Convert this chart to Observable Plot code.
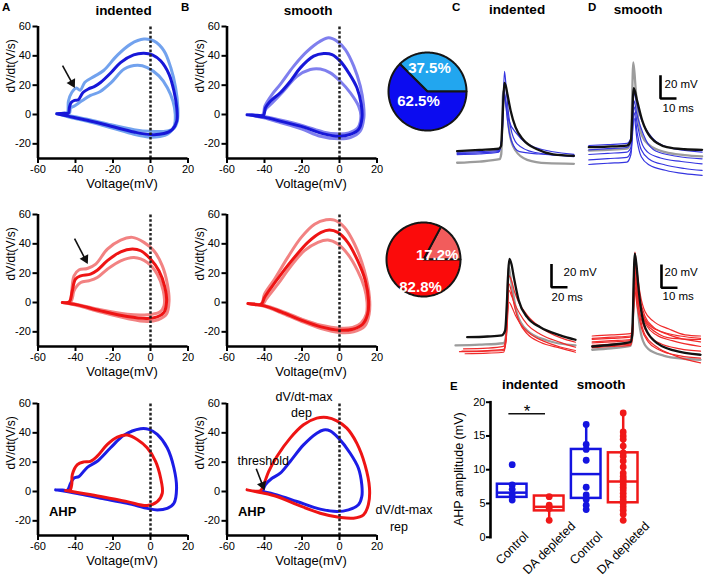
<!DOCTYPE html>
<html><head><meta charset="utf-8">
<script src="https://cdn.jsdelivr.net/npm/d3@7"></script>
<script src="https://cdn.jsdelivr.net/npm/@observablehq/plot@0.6"></script>
<style>
html,body{margin:0;padding:0;background:#fff;}
#fig{position:relative;width:708px;height:577px;overflow:hidden;background:#fff;font-family:"Liberation Sans",Arial,Helvetica,sans-serif;}
#fig svg{position:absolute;overflow:visible;}
</style></head><body><div id="fig"></div>
<script>
// ---------------- DATA ----------------
const xTicksPhase = [-60, -40, -20, 0, 20];
const yTicksPhase = [60, 40, 20, 0, -20];
const phaseX = [-60, 20];
const phaseY = [-30, 60];
const xLabelPhase = "Voltage(mV)";
const yLabelPhase = "dV/dt(V/s)";

// Panel A (indented) control, blue: mean and mean±SEM  [V (mV), dV/dt (V/s)]
const a1Mean = [[-50,0.5],[-46,0.8],[-43.8,1],[-43.2,5],[-42.3,8.2],[-40.5,9.6],[-38.5,10],[-36,15],[-33,17.5],[-30,19],[-26.5,22],[-21,28.6],[-16,35.4],[-9,40.7],[-3.5,41.8],[1,40.7],[5.4,36.6],[9.9,27.4],[12.5,16],[14,4.6],[14,-4.6],[11.6,-10.3],[7.2,-13],[0,-13.7],[-8.8,-11.9],[-21,-8],[-33.7,-3.9],[-44,-1.1],[-50,0.5]];
const a1Upper = [[-50,0.5],[-46,0.9],[-44.3,1.5],[-43.8,9],[-42,15],[-39.5,18],[-37.5,16.5],[-35,22],[-30,26],[-25,30],[-18,40],[-10.6,48],[-3.5,51.4],[2,50],[7.2,43.4],[10.8,32],[13.4,18.3],[14.6,4.6],[14.3,-4.6],[12.5,-9.5],[9,-11.2],[0,-11.5],[-8.8,-10.3],[-21,-7],[-33.7,-3.2],[-44,-0.6],[-50,0.5]];
const a1Lower = [[-49,0.3],[-45,0.6],[-43.2,1],[-42.6,4.6],[-41,5.5],[-37,9],[-32,13],[-27,15.5],[-21,21.7],[-14,31],[-7,33.6],[-1.7,32],[4.5,26.3],[9,18.3],[12,9],[13.2,0],[12.6,-8],[9,-13.5],[5,-15],[0,-15.5],[-8.8,-13.5],[-21,-9],[-33.7,-4.6],[-44,-1.6],[-49,0.3]];
// Panel B (smooth) control, blue
const b1Mean = [[-49.3,-0.2],[-44,-0.5],[-40.5,-0.5],[-39.5,4.5],[-36.9,9],[-31.6,14.8],[-26.2,22.7],[-20.9,31.8],[-13.8,39.8],[-8.4,41.6],[-4,40.9],[0.4,36.4],[4.9,28.4],[9.3,18.2],[11.6,6.8],[12,-2.3],[10.2,-10.2],[5.8,-13.6],[-0.4,-14.8],[-8.4,-13.2],[-19.1,-8.6],[-31.6,-4.5],[-40.4,-1.8],[-49.3,-0.2]];
const b1Upper = [[-48,-0.2],[-41,-0.3],[-39.8,5.7],[-36,13.6],[-31.6,20.5],[-24.4,33],[-17.3,43],[-10.2,50],[-5.8,52.3],[-1.3,50],[3.1,44.3],[7.6,33],[11.1,19.3],[12.8,6.8],[13,-2.3],[11,-11.4],[5.8,-15.8],[-0.4,-16.6],[-10.2,-14.8],[-20,-10],[-31.6,-5.5],[-40.4,-2.3],[-48,-0.2]];
const b1Lower = [[-47,-0.3],[-41,-0.3],[-39.5,3.4],[-35,9],[-29.8,16],[-22.7,26],[-15.6,30.7],[-10.2,31],[-4.9,28.4],[0.4,22.7],[5.8,14.8],[10.2,5.7],[11.4,-1.1],[9.8,-9],[5,-12.5],[-1.3,-13.2],[-8.4,-12],[-19.1,-7.8],[-31.6,-3.8],[-40.4,-1.4],[-47,-0.3]];
// Panel A (indented) DA depleted, red
const a2Mean = [[-47,0],[-44,0],[-43,1],[-41.7,8],[-40,16],[-37.2,18.2],[-32,19.4],[-28.4,22],[-23,28.5],[-15.9,34.6],[-9.7,36.5],[-5.2,35.3],[0,29.6],[4.5,21.6],[7.7,10.3],[8.6,1.1],[7.2,-6.8],[3.6,-9.8],[-1.7,-10.9],[-12.4,-9.6],[-26.6,-5.7],[-39,-1.6],[-47,0]];
const a2Upper = [[-47,0],[-43,0.5],[-42,8],[-40.8,18.2],[-38,22.3],[-33.7,23.2],[-29.2,26.2],[-23,36.4],[-15.9,42.6],[-9.7,44.4],[-3.5,41],[1.8,35.3],[6.3,25],[9,12.5],[9.9,1.1],[8.5,-8],[4,-11.8],[-1.7,-13],[-12.4,-11],[-26.6,-6.5],[-39,-2],[-47,0]];
const a2Lower = [[-46,0],[-42.5,0.5],[-41.5,4],[-40.8,8],[-37.2,13.6],[-32.8,14.8],[-28.4,17],[-23,22.7],[-15.9,28.4],[-8.8,30.7],[-1.7,27.3],[3.6,19.3],[6.8,8],[7.2,-2.3],[5,-6.5],[1,-8],[-5,-8.5],[-12.4,-8],[-26.6,-5],[-39,-1.3],[-46,0]];
// Panel B (smooth) DA depleted, red
const b2Mean = [[-48.8,-0.7],[-41.7,-1.1],[-40,3.4],[-36.4,10.2],[-31.1,19.4],[-24,30.8],[-16.9,41],[-9.8,47.8],[-5.4,49.4],[-0.9,47.8],[4.4,41],[9.7,28.5],[13.8,14.8],[15.5,1.1],[15,-8],[12.4,-14.8],[7.1,-18.2],[0,-18.9],[-9.8,-16.6],[-20.4,-12],[-31.1,-6.4],[-40,-2.3],[-48.8,-0.7]];
const b2Upper = [[-48.8,-0.7],[-41.7,-1],[-40,5.7],[-34.6,16],[-27.6,30.8],[-20.4,44.4],[-13.3,53.4],[-7.1,56.4],[-2.7,56.2],[2.7,51.2],[8,39.9],[13.3,21.6],[16,3.4],[15.8,-8],[13.5,-16],[7.5,-20],[0,-20.5],[-9.8,-17.8],[-20.4,-12.8],[-31.1,-7],[-40,-2.6],[-48.8,-0.7]];
const b2Lower = [[-48,-0.7],[-41,-1.1],[-39.1,2.3],[-32.9,12.5],[-25.8,25],[-18.7,35.3],[-11.5,41],[-6.2,42.6],[-0.9,39.9],[4.4,33],[9.7,21.6],[13.3,10.2],[14.7,0],[14.3,-8],[11.5,-14],[7,-17],[0,-17.5],[-9.8,-15.5],[-20.4,-11.2],[-31.1,-5.8],[-40,-2],[-48,-0.7]];
// Overlays: indented (A) and smooth (B), control blue vs DA depleted red
const a3Blue = [[-50.6,1.1],[-47,1],[-44.4,0.8],[-42.6,5.7],[-40.8,9.2],[-38.1,10.3],[-33.7,16.5],[-28.4,20.6],[-21.3,29.8],[-14.2,38.3],[-5.3,42.8],[-0.9,42.4],[3.6,38.9],[8.9,29.8],[12.5,16],[13.9,2.3],[12.5,-8],[8.9,-11.5],[3.6,-12.6],[-1.7,-11.5],[-12.4,-8],[-26.6,-4.6],[-39,-1.4],[-50.6,1.1]];
const a3Red = [[-45.3,0.7],[-43,0.8],[-42,5],[-41.7,11.5],[-39,18.3],[-35.5,20.2],[-32,20.6],[-28.4,24.1],[-23,32.1],[-17.7,37.1],[-12.4,38.5],[-7.1,35.5],[-1.8,29.8],[2.7,20.6],[5.4,9.2],[6.3,-1.1],[3.6,-6.9],[-1.8,-9.6],[-12.4,-6.9],[-26.6,-3.4],[-39,-0.7],[-45.3,0.7]];
const b3Blue = [[-41,0],[-39.6,4.5],[-36,9],[-31.6,12.5],[-26.3,20.5],[-19.2,31.8],[-12.1,39.8],[-8.5,42],[-5,41.4],[-0.5,36.4],[5.7,26.1],[10.1,15.9],[11.9,4.5],[11.9,-3.4],[10.1,-9],[4.8,-12.5],[-1.4,-13.6],[-10.3,-12],[-22.7,-6.8],[-33.4,-2.3],[-41,0]];
const b3Red = [[-49.3,1.1],[-42.3,0.5],[-40.5,4.5],[-37.8,13.6],[-33.4,23.9],[-26.3,36.4],[-19.2,45.5],[-12.1,50],[-6.7,50.5],[-1.4,48.2],[3.9,43.2],[9.2,33],[13.6,18.2],[16,2.3],[15.4,-9],[12.8,-15.9],[7.5,-18.2],[0.4,-17.7],[-10.3,-14.8],[-22.7,-9],[-33.4,-3.4],[-42.3,-0.7],[-49.3,1.1]];

// annotation arrows [x1, y1, x2(tip), y2(tip)] in data units
const arrowA1 = [-46.9, 33.4, -40.5, 18.4];
const arrowA2 = [-40.5, 43.6, -33.6, 26.6];
const arrowThreshold = [-44.4, 15.5, -40.1, 1.2];
// annotation texts [text, V, dV/dt]
const notesB3Centered = [["dV/dt-max", -18.9, 61.4], ["dep", -20.3, 50.5], ["dV/dt-max", 34.4, -15], ["rep", 31.7, -26.6]];
const noteThreshold = ["threshold", -54.4, 18.4];
const noteAHP = ["AHP", -54.2, -16.4];

// pies
const pieIndentedValues = [37.5, 62.5];
const pieIndentedLabels = ["37.5%", "62.5%"];
const pieIndentedLabelPos = [[0.05, 0.59], [-0.23, -0.26]];
const pieDepletedValues = [17.2, 82.8];
const pieDepletedLabels = ["17.2%", "82.8%"];
const pieDepletedLabelPos = [[0.37, 0.13], [-0.08, -0.75]];

// action potential traces [time (ms), membrane potential (mV, relative)]
const cTopBlack = [[1,-0.5],[15,0.5],[27,1.5],[28.5,4],[29.5,30],[30.5,58],[31.5,55],[32.5,48],[34.5,34],[37.5,20],[42.5,9],[51,1],[61,-3.4],[74,-4.6]];
const cTopGray = [[1,-10.5],[15,-9.5],[27.5,-7.5],[28.6,-3],[29.8,51],[30.8,45],[31.9,37],[33.9,14],[37.5,0],[44.8,-8],[57,-10.9],[74,-11.4]];
const cTopBlue = [
  [[1,-3.5],[15,-3],[27,-1.5],[29,10],[30.6,68],[31.3,60],[32.3,43],[34.4,20],[38.5,5.7],[49,-1.5],[74,-5.2]],
  [[1,-1.5],[15,-1],[27,0],[29,10],[30.2,54],[31.3,42],[32.3,28],[35,8],[40,-1],[52,-3],[74,-4.5]],
  [[1,-2.5],[15,-2],[27,-1],[29,10],[30.5,48],[31.5,40],[33.3,26],[38.5,14],[49,3],[74,-3.4]]
];
const dTopBlack = [[0.2,0.3],[12,0.8],[24,1.7],[26.5,6],[28.3,51],[30.4,40],[33.6,23],[38.8,8.8],[49,0.3],[60,-1.5],[71,-2]];
const dTopGray = [[0.2,-2.6],[12,-2],[24,-1],[26.5,5],[28,73],[29.5,50],[31,25],[33.5,10],[38,2],[48,-4],[60,-6.5],[71,-7.7]];
const dTopBlue = [
  [[0.2,1.7],[12,2.5],[24,3.5],[26.5,8],[28.5,47],[30,38],[32,28],[35,18],[40,8],[50,0],[71,-4]],
  [[0.2,-2],[12,-1],[24,0],[26.5,5],[28.5,40],[30,30],[32.5,18],[36,6],[42,-3],[55,-7.5],[71,-9.7]],
  [[0.2,-6],[12,-5],[24,-4],[26.5,0],[28.5,35],[30.5,20],[33,5],[37,-4],[45,-9],[58,-12],[71,-14]],
  [[0.2,-10.6],[12,-9.5],[24,-8.5],[26.5,-3],[28.5,30],[30.5,12],[33,-2],[38,-10],[48,-15],[60,-18],[71,-19.7]],
  [[0.2,-14.6],[12,-13.5],[24,-12.5],[26.5,-6],[28.5,25],[30.5,5],[33,-8],[38,-15],[48,-19.5],[60,-22.5],[71,-24]]
];
const cBotBlack = [[14.6,-0.6],[40,0],[58,1],[62,5],[67.5,66.7],[70,62],[72.9,51],[79,31],[89.6,16.6],[106,8],[131,1],[150,-2.8]];
const cBotGray = [[0,-7.7],[30,-7],[60,-5.8],[63,0],[66.6,59.5],[68.5,52],[70.8,42],[77,19.5],[89.6,5.2],[114.6,-3.4],[150,-7.7]];
const cBotRed = [
  [[10,-10.6],[40,-10],[60,-8.5],[63,0],[67,52],[70,48],[74,38],[80,28],[90,18],[106,8],[131,-1],[150,-4.9]],
  [[8,-12.6],[40,-12],[60,-11],[63,-3],[67,39.5],[70,35],[74,28],[80,20],[90,10],[106,2],[131,-5],[150,-9.2]],
  [[12,-14.8],[40,-14.3],[60,-13.5],[63,-5],[67,29.4],[70,26],[75,18],[82,10],[92,3],[110,-4],[131,-9],[150,-12]],
  [[5,-13],[40,-12.5],[60,-12],[63,-4],[67,45],[70,38],[74,25],[80,12],[90,2],[106,-5],[131,-10],[150,-13.5]]
];
const dBotBlack = [[0,0],[12,1.5],[23.9,3.7],[25,10],[26.6,79.6],[27.5,72],[29.1,48],[32.3,19.5],[38.5,5.2],[51,-3.4],[67.7,-7.1]];
const dBotGray = [[0,-2.8],[12,-1.5],[23.9,0.5],[25,8],[26.5,66.7],[27.5,50],[29,25],[31,8],[35,-2],[45,-8],[57,-10.5],[67.7,-11.4]];
const dBotRed = [
  [[0,9],[12,10],[23.9,11],[25,15],[26.7,81],[28,65],[30,45],[33,30],[38,22],[48,15],[58,10],[67.7,9]],
  [[0,6],[12,7],[23.9,8],[25,14],[26.7,70],[28,58],[30,40],[33,26],[38,17],[48,10],[67.7,4]],
  [[0,3],[12,4],[23.9,5],[25,10],[26.7,60],[28,48],[30,33],[34,18],[40,10],[50,5],[67.7,0]],
  [[0,1],[12,2],[23.9,3],[25,8],[26.7,52],[28,40],[31,22],[35,10],[42,3],[55,-2],[67.7,-4]],
  [[0,-1],[12,0],[23.9,1],[25,6],[26.7,48],[28,35],[31,15],[35,4],[42,-3],[55,-8],[67.7,-10]],
  [[0,4],[12,5],[23.9,6],[25,12],[26.7,75],[28,60],[30,38],[34,20],[40,12],[50,7],[67.7,6]],
  [[0,0],[12,1],[23.9,2],[25,7],[26.7,66],[28,48],[30,25],[33,10],[40,0],[52,-8],[67.7,-14]],
  [[0,7],[12,8],[23.9,9],[25,13],[26.7,56],[28,46],[31,30],[36,18],[45,12],[55,9],[67.7,7]]
];
// scale bars: corner [ms, mV], sizes
const barDTop = {at: [45, 42], ms: 10, mV: 20, msLabel: "10 ms", mvLabel: "20 mV"};
const barCBot = {at: [120, 42.3], ms: 20, mV: 20, msLabel: "20 ms", mvLabel: "20 mV"};
const barDBot = {at: [43.3, 50.4], ms: 10, mV: 20, msLabel: "10 ms", mvLabel: "20 mV"};

// panel E: AHP amplitude (mV)
const eGroups = ["Control", "DA depleted", "Control", "DA depleted"];
const eQ1 = [5.9, 3.9, 5.75, 5.1];
const eMedian = [6.6, 4.5, 9.35, 8.25];
const eQ3 = [7.85, 6.1, 13.0, 12.5];
const eLow = [5.4, 2.5, 4.1, 2.5];
const eHigh = [7.85, 6.1, 16.7, 18.4];
const ePoints = [
  [10.75, 7.75, 7.1, 6.3, 5.5],
  [6.0, 4.75, 4.25, 2.5],
  [16.7, 13.75, 13.0, 11.4, 7.4, 6.25, 5.6, 4.75, 4.1],
  [18.4, 15.6, 15.0, 14.5, 13.5, 12.5, 12.0, 11.3, 10.4, 9.5, 9.0, 8.6, 8.2, 7.8, 7.4, 7.0, 6.5, 6.0, 5.5, 5.0, 4.5, 4.0, 3.4, 2.5]
];
const eTicks = [0, 5, 10, 15, 20];
const eYDomain = [0, 20];
const eYLabel = "AHP amplitude (mV)";
const eSignif = {from: 0.91, to: 1.9, y: 18.3, label: "*"};

// ---------------- STYLE ----------------
const FONT = '"Liberation Sans", Arial, Helvetica, sans-serif';
const blueDark = "#1717d8", blueLightA = "#72a2ee", blueLightB = "#7f7fee";
const redDark = "#ee1414", redLight = "#f28282";
const eColors = ["#1414e0", "#f01818", "#1414e0", "#f01818"];
const fig = document.getElementById("fig");
const baseStyle = {background: "transparent", overflow: "visible", fontFamily: FONT};

function place(svg, left, top) {
  svg.style.position = "absolute";
  svg.style.left = left + "px";
  svg.style.top = top + "px";
  fig.appendChild(svg);
  return svg;
}

// ---------------- PHASE PLOTS ----------------
const PH = {w: 200, h: 190, ml: 37.5, mr: 12.5, mt: 26, mb: 32};
const phSx = (PH.w - PH.ml - PH.mr) / (phaseX[1] - phaseX[0]);
const phSy = (PH.h - PH.mt - PH.mb) / (phaseY[1] - phaseY[0]);

function arrowMarks(a) {
  const [x1, y1, x2, y2] = a;
  const dxp = (x2 - x1) * phSx, dyp = (y2 - y1) * phSy;
  const L = Math.hypot(dxp, dyp);
  const back = 5;
  const cx = x2 - dxp / L * back / phSx, cy = y2 - dyp / L * back / phSy;
  const ang = Math.atan2(dxp, dyp) * 180 / Math.PI;
  return [
    Plot.link([0], {x1: () => x1, y1: () => y1, x2: () => cx, y2: () => cy, stroke: "#111", strokeWidth: 1.6}),
    Plot.dot([0], {x: () => cx, y: () => cy, symbol: "triangle", r: 3.6, fill: "#111", stroke: "none", rotate: ang})
  ];
}

function phasePlot(left, top, curves, extras = []) {
  const svg = Plot.plot({
    width: PH.w, height: PH.h,
    marginLeft: PH.ml, marginRight: PH.mr, marginTop: PH.mt, marginBottom: PH.mb,
    style: baseStyle,
    x: {domain: phaseX},
    y: {domain: phaseY},
    marks: [
      ...curves.map(c => Plot.line(c.pts, {x: d => d[0], y: d => d[1], stroke: c.color, strokeWidth: 3, curve: "catmull-rom"})),
      Plot.ruleX([0], {y1: phaseY[0], y2: phaseY[1], stroke: "#222", strokeWidth: 2.5, strokeDasharray: "2.6,2"}),
      Plot.ruleY([phaseY[0]], {x1: phaseX[0], x2: phaseX[1], stroke: "#000", strokeWidth: 2.6}),
      Plot.ruleX([phaseX[0]], {y1: phaseY[0], y2: phaseY[1], stroke: "#000", strokeWidth: 2.6}),
      Plot.axisX({ticks: xTicksPhase, tickSize: 5, tickPadding: 2, strokeWidth: 2, fontSize: 11, tickFormat: d => String(d), label: null}),
      Plot.axisY({ticks: yTicksPhase, tickSize: 5, tickPadding: 2, strokeWidth: 2, fontSize: 11, tickFormat: d => String(d), label: null}),
      Plot.text([xLabelPhase], {frameAnchor: "bottom", dx: 9, dy: 29.5, lineAnchor: "bottom", fontSize: 13}),
      Plot.text([yLabelPhase], {frameAnchor: "left", rotate: -90, dx: -27, fontSize: 12, ariaLabel: "ylabel"}),
      ...extras
    ]
  });
  svg.querySelectorAll('g[aria-label="ylabel"] text').forEach(t => {
    t.setAttribute("textLength", 72);
    t.setAttribute("lengthAdjust", "spacingAndGlyphs");
  });
  return place(svg, left, top);
}

const ahpMark = Plot.text([noteAHP], {x: d => d[1], y: d => d[2], text: d => d[0], textAnchor: "start", lineAnchor: "bottom", fontSize: 13, fontWeight: "bold"});

phasePlot(0, 0, [{pts: a1Upper, color: blueLightA}, {pts: a1Lower, color: blueLightA}, {pts: a1Mean, color: blueDark}], arrowMarks(arrowA1));
phasePlot(189, 0, [{pts: b1Upper, color: blueLightB}, {pts: b1Lower, color: blueLightB}, {pts: b1Mean, color: blueDark}]);
phasePlot(0, 188, [{pts: a2Upper, color: redLight}, {pts: a2Lower, color: redLight}, {pts: a2Mean, color: redDark}], arrowMarks(arrowA2));
phasePlot(189, 188, [{pts: b2Upper, color: redLight}, {pts: b2Lower, color: redLight}, {pts: b2Mean, color: redDark}]);
phasePlot(0, 377, [{pts: a3Blue, color: "#1c1ce6"}, {pts: a3Red, color: redDark}], [ahpMark]);
phasePlot(189, 377, [{pts: b3Blue, color: "#1c1ce6"}, {pts: b3Red, color: redDark}], [
  ahpMark,
  Plot.text(notesB3Centered, {x: d => d[1], y: d => d[2], text: d => d[0], textAnchor: "middle", lineAnchor: "bottom", fontSize: 12.5}),
  Plot.text([noteThreshold], {x: d => d[1], y: d => d[2], text: d => d[0], textAnchor: "start", lineAnchor: "bottom", fontSize: 12.5}),
  ...arrowMarks(arrowThreshold)
]);

// ---------------- PIES ----------------
function piePlot(left, top, size, radius, values, colors, labels, labelPos) {
  const total = d3.sum(values);
  let a = 0;
  const slices = values.map((v, i) => {
    const a0 = a, a1 = a + v / total * 2 * Math.PI;
    a = a1;
    const n = Math.max(2, Math.ceil((a1 - a0) / (Math.PI / 90)));
    const pts = [[0, 0]];
    for (let k = 0; k <= n; k++) {
      const t = a0 + (a1 - a0) * k / n;
      pts.push([Math.cos(t), Math.sin(t)]);
    }
    pts.push([0, 0]);
    return {pts, color: colors[i]};
  });
  const m = size / 2 - radius;
  const svg = Plot.plot({
    width: size, height: size, margin: m, style: baseStyle,
    x: {domain: [-1, 1], axis: null},
    y: {domain: [-1, 1], axis: null},
    marks: [
      ...slices.map(s => Plot.line(s.pts, {x: d => d[0], y: d => d[1], fill: s.color, stroke: "#151515", strokeWidth: 2, strokeLinejoin: "round"})),
      Plot.text(labels, {x: (d, i) => labelPos[i][0], y: (d, i) => labelPos[i][1], text: d => d, fill: "white", fontSize: 15, fontWeight: "bold"})
    ]
  });
  return place(svg, left, top);
}
piePlot(382, 46, 90, 39, pieIndentedValues, ["#22a6ef", "#0c0cf0"], pieIndentedLabels, pieIndentedLabelPos);
piePlot(378, 214, 90, 37, pieDepletedValues, ["#f25c5c", "#fb0b0b"], pieDepletedLabels, pieDepletedLabelPos);

// ---------------- TRACES ----------------
function tracePlot(box, origin, pxMs, pxMv, groups, bar) {
  const [left, top, width, height] = box;
  const [x0, y0] = origin;
  const xd = [(left - x0) / pxMs, (left + width - x0) / pxMs];
  const yd = [(y0 - (top + height)) / pxMv, (y0 - top) / pxMv];
  const marks = [];
  for (const g of groups) {
    for (const tr of g.traces) {
      marks.push(Plot.line(tr, {x: d => d[0], y: d => d[1], stroke: g.color, strokeWidth: g.width, curve: "monotone-x"}));
    }
  }
  if (bar) {
    const [t, v] = bar.at;
    const pts = [[t, v + bar.mV], [t, v], [t + bar.ms, v]];
    marks.push(Plot.line(pts, {x: d => d[0], y: d => d[1], stroke: "#000", strokeWidth: 2.6, strokeLinejoin: "miter", strokeLinecap: "butt"}));
    marks.push(Plot.text([bar.mvLabel], {x: () => t, y: () => v + bar.mV / 2, textAnchor: "start", lineAnchor: "bottom", dx: bar.mvDx, dy: bar.mvDy, fontSize: 11.5}));
    marks.push(Plot.text([bar.msLabel], {x: () => t, y: () => v, textAnchor: "start", lineAnchor: "bottom", dx: bar.msDx, dy: bar.msDy, fontSize: 11.5}));
  }
  const svg = Plot.plot({
    width, height, margin: 0, style: baseStyle,
    x: {domain: xd, axis: null}, y: {domain: yd, axis: null},
    marks
  });
  return place(svg, left, top);
}
tracePlot([450, 55, 135, 125], [455, 150], 1.6, 1.165, [
  {traces: [cTopGray], color: "#9c9c9c", width: 2.3},
  {traces: cTopBlue, color: "#3535e0", width: 1.2},
  {traces: [cTopBlack], color: "#111", width: 2.3}
]);
tracePlot([584, 50, 124, 135], [588, 147], 1.6, 1.165, [
  {traces: [dTopGray], color: "#9c9c9c", width: 2.3},
  {traces: dTopBlue, color: "#3535e0", width: 1.2},
  {traces: [dTopBlack], color: "#111", width: 2.3}
], {...barDTop, mvDx: 4, mvDy: 1.5, msDx: 2, msDy: 13.5});
tracePlot([450, 235, 150, 130], [455, 336], 0.8, 1.165, [
  {traces: [cBotGray], color: "#9c9c9c", width: 2.3},
  {traces: cBotRed, color: "#f02a2a", width: 1.2},
  {traces: [cBotBlack], color: "#111", width: 2.3}
], {...barCBot, mvDx: 12, mvDy: 0.5, msDx: 0, msDy: 13.5});
tracePlot([587, 235, 121, 135], [591.7, 346], 1.6, 1.165, [
  {traces: [dBotGray], color: "#9c9c9c", width: 2.3},
  {traces: dBotRed, color: "#f02a2a", width: 1.2},
  {traces: [dBotBlack], color: "#111", width: 2.3}
], {...barDBot, mvDx: 3, mvDy: 0, msDx: 1, msDy: 12.7});

// ---------------- PANEL E ----------------
const E = {left: 380, top: 370, w: 328, h: 207, ml: 110, mt: 31.7, mb: 40.3};
{
  const idx = eGroups.map((g, i) => i);
  const pts = ePoints.flatMap((arr, i) => arr.map(v => ({g: i + 1, v})));
  const hw = 0.4;
  const svg = Plot.plot({
    width: E.w, height: E.h,
    marginLeft: E.ml, marginRight: 0, marginTop: E.mt, marginBottom: E.mb,
    style: baseStyle,
    x: {domain: [1, 4], range: [131.7, 242.7], axis: null},
    y: {domain: eYDomain},
    marks: [
      Plot.frame({anchor: "left", strokeWidth: 2.6, stroke: "#000"}),
      Plot.axisY({ticks: eTicks, tickSize: 4, tickPadding: 1, strokeWidth: 2, fontSize: 11, tickFormat: d => String(d), label: null}),
      Plot.ruleX(idx, {x: i => i + 1, y1: i => eLow[i], y2: i => eQ1[i], stroke: i => eColors[i], strokeWidth: 2.5}),
      Plot.ruleX(idx, {x: i => i + 1, y1: i => eQ3[i], y2: i => eHigh[i], stroke: i => eColors[i], strokeWidth: 2.5}),
      Plot.rect(idx, {x1: i => i + 1 - hw, x2: i => i + 1 + hw, y1: i => eQ1[i], y2: i => eQ3[i], stroke: i => eColors[i], fill: "none", strokeWidth: 2.5}),
      Plot.ruleY(idx, {y: i => eMedian[i], x1: i => i + 1 - hw, x2: i => i + 1 + hw, stroke: i => eColors[i], strokeWidth: 2.5}),
      Plot.dot(pts, {x: "g", y: "v", r: 3.4, fill: d => eColors[d.g - 1], stroke: "none"}),
      Plot.ruleY([eSignif.y], {x1: eSignif.from, x2: eSignif.to, stroke: "#111", strokeWidth: 1.4}),
      Plot.text([eSignif.label], {x: () => (eSignif.from + eSignif.to) / 2, y: () => eSignif.y, lineAnchor: "bottom", dy: 3, fontSize: 17}),
      Plot.text(eGroups, {x: (d, i) => i + 1, y: () => 0, text: d => d, rotate: -45, textAnchor: "middle", dy: 11, fontSize: 12.5})
    ]
  });
  place(svg, E.left, E.top);
}

// ---------------- TITLES & AXIS TITLE OF E ----------------
const titles = [
  ["A", 2, 10.5, "start", 11.5], ["indented", 123.5, 14.5, "middle", 13.5],
  ["B", 181, 10.5, "start", 11.5], ["smooth", 308, 14.5, "middle", 13.5],
  ["C", 452, 10.5, "start", 11.5], ["indented", 517, 14, "middle", 13.5],
  ["D", 588, 10.5, "start", 11.5], ["smooth", 638, 14, "middle", 13.5],
  ["E", 450, 390, "start", 11.5], ["indented", 530, 389, "middle", 13.5], ["smooth", 601, 389, "middle", 13.5]
];
const ov = d3.select(fig).append("svg").attr("width", 708).attr("height", 577)
  .style("left", "0px").style("top", "0px").style("pointer-events", "none");
ov.selectAll("text.title").data(titles).join("text").attr("class", "title")
  .attr("x", d => d[1]).attr("y", d => d[2]).attr("text-anchor", d => d[3])
  .attr("font-size", d => d[4]).attr("font-weight", "bold").attr("font-family", FONT)
  .text(d => d[0]);
// E y-axis title, centred on the frame of panel E
const eMidY = E.top + (E.mt + E.h - E.mb) / 2;
ov.append("text")
  .attr("transform", `translate(${E.left + E.ml - 31},${eMidY}) rotate(-90)`)
  .attr("dy", "0.32em")
  .attr("text-anchor", "middle").attr("font-size", 12.5).attr("font-family", FONT)
  .text(eYLabel);
</script></body></html>
